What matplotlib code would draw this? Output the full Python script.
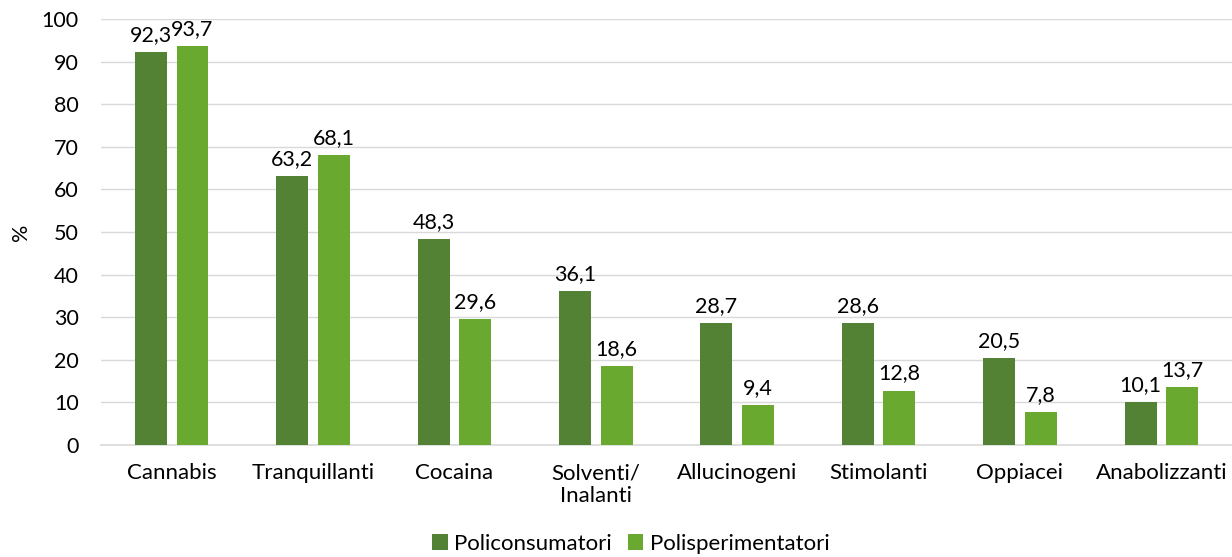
import matplotlib.pyplot as plt
import numpy as np

categories = ["Cannabis", "Tranquillanti", "Cocaina", "Solventi/\nInalanti", "Allucinogeni", "Stimolanti", "Oppiacei", "Anabolizzanti"]
policonsumatori = [92.3, 63.2, 48.3, 36.1, 28.7, 28.6, 20.5, 10.1]
polisperimentatori = [93.7, 68.1, 29.6, 18.6, 9.4, 12.8, 7.8, 13.7]
series_names = ["Policonsumatori", "Polisperimentatori"]
colors = ["#548235", "#6AA92F"]

plt.rcParams['font.family'] = ['Lato', 'DejaVu Sans']

fig = plt.figure(figsize=(12.32, 5.57), dpi=100)
ax = fig.add_axes([0.082, 0.201, 0.918, 0.765])

x = np.arange(len(categories))
w = 0.226
off = 0.147
fs = 16
b1 = ax.bar(x - off, policonsumatori, w, color=colors[0], label=series_names[0], zorder=3)
b2 = ax.bar(x + off, polisperimentatori, w, color=colors[1], label=series_names[1], zorder=3)

def fmt(v):
    return f"{v:.1f}".replace(".", ",")

for bars, vals in ((b1, policonsumatori), (b2, polisperimentatori)):
    for r, v in zip(bars, vals):
        ax.annotate(fmt(v), (r.get_x() + r.get_width() / 2, v), xytext=(0, 5),
                    textcoords="offset points", ha="center", va="bottom", fontsize=15.5, color="#000000")

ax.set_ylim(0, 100)
ax.set_xlim(-0.5, len(categories) - 0.5)
ax.set_yticks(range(0, 101, 10))
ax.yaxis.grid(True, color="#D9D9D9", linewidth=1, zorder=0)
ax.set_axisbelow(True)
for s in ["top", "right", "left"]:
    ax.spines[s].set_visible(False)
ax.spines["bottom"].set_color("#D9D9D9")
ax.spines["bottom"].set_linewidth(1.2)
ax.tick_params(axis="both", length=0, colors="#000000")
ax.tick_params(axis="x", pad=13, labelsize=fs)
ax.tick_params(axis="y", pad=16, labelsize=15.5)
ax.set_xticks(x)
ax.set_xticklabels(categories, linespacing=1.2)
ax.set_ylabel("%", fontsize=15.5, labelpad=8)

fig.legend(handles=[b1, b2], labels=series_names, loc="lower center", bbox_to_anchor=(0.512, -0.03),
           ncol=2, frameon=False, fontsize=fs, handlelength=0.7, handleheight=0.7,
           handletextpad=0.3, columnspacing=0.7)

fig.savefig("out.png", dpi=100)
